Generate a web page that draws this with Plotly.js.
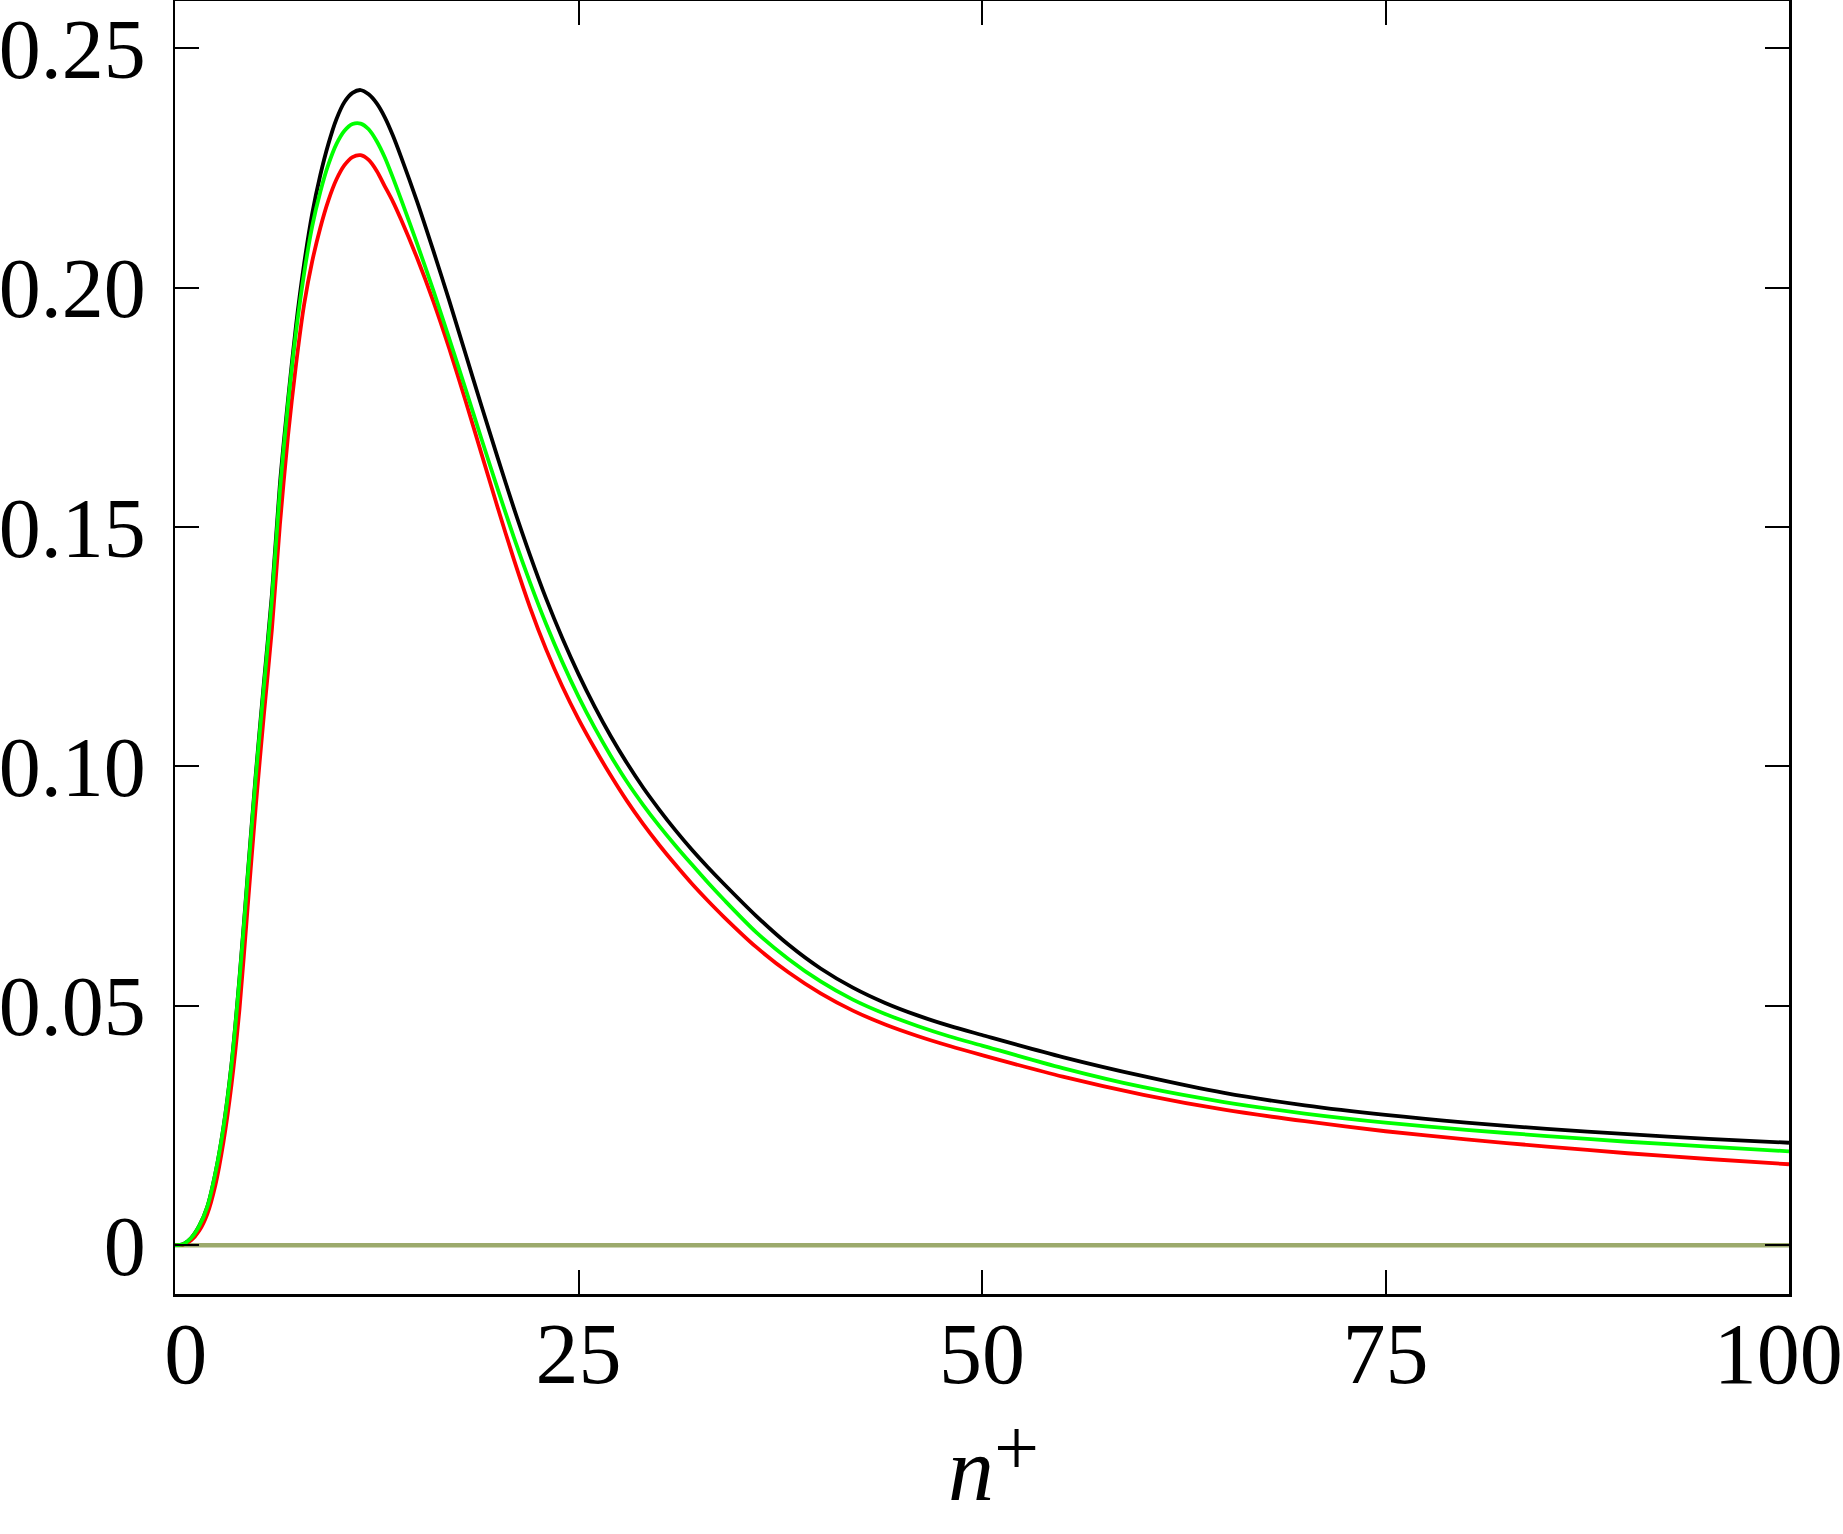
<!DOCTYPE html>
<html>
<head>
<meta charset="utf-8">
<script src="https://cdn.plot.ly/plotly-3.0.1.min.js"></script>
<style>html,body{margin:0;padding:0;background:#fff;}#chart{width:1843px;height:1534px;}</style>
</head>
<body>
<div id="chart"></div>
<script>
// n+ positions
const nPlus = [0,0.5,1,1.5,2,2.5,3,3.5,4,4.5,5,5.5,6,6.5,7,7.5,8,8.5,9,9.5,10,10.5,11,11.5,12,12.5,13,13.5,14,15,16,17,18,19,20,21,22,23,24,25,26,27,28,29,30,31,32,33,34,36,38,40,42,44,46,48,50,55,60,65,70,75,80,85,90,95,100];

const blackSeries = [0,0.0002,0.0015,0.0040,0.0080,0.0150,0.0246,0.0378,0.0560,0.0772,0.0982,0.1172,0.1358,0.1590,0.1765,0.1922,0.2050,0.2155,0.2235,0.2300,0.2352,0.2388,0.2407,0.2413,0.2404,0.2385,0.2356,0.2318,0.2274,0.2180,0.2078,0.1972,0.1862,0.1752,0.1644,0.1539,0.1441,0.1350,0.1268,0.1193,0.1125,0.1063,0.1007,0.0956,0.0910,0.0867,0.0827,0.0790,0.0755,0.0688,0.0628,0.0578,0.0538,0.0506,0.0480,0.0458,0.0439,0.0393,0.0353,0.0318,0.0292,0.0272,0.0256,0.0243,0.0232,0.0222,0.0214];

const greenSeries = [0,0.0002,0.0015,0.0040,0.0080,0.0150,0.0245,0.0376,0.0557,0.0767,0.0976,0.1164,0.1348,0.1577,0.1757,0.1908,0.2030,0.2128,0.2200,0.2257,0.2300,0.2328,0.2342,0.2343,0.2331,0.2306,0.2272,0.2230,0.2185,0.2092,0.1995,0.1893,0.1789,0.1683,0.1579,0.1478,0.1384,0.1297,0.1218,0.1146,0.1081,0.1022,0.0968,0.0920,0.0876,0.0835,0.0796,0.0758,0.0722,0.0654,0.0598,0.0551,0.0513,0.0483,0.0458,0.0436,0.0417,0.0370,0.0330,0.0299,0.0275,0.0256,0.0241,0.0228,0.0216,0.0206,0.0196];

const redSeries = [0,0.0001,0.0010,0.0030,0.0065,0.0125,0.0215,0.0335,0.0495,0.0705,0.0915,0.1105,0.1285,0.1505,0.1690,0.1840,0.1965,0.2055,0.2125,0.2182,0.2226,0.2256,0.2273,0.2277,0.2267,0.2244,0.2212,0.2180,0.2143,0.2062,0.1972,0.1872,0.1764,0.1652,0.1540,0.1432,0.1332,0.1244,0.1167,0.1099,0.1038,0.0981,0.0928,0.0880,0.0836,0.0795,0.0756,0.0720,0.0686,0.0623,0.0570,0.0526,0.0490,0.0461,0.0437,0.0416,0.0397,0.0352,0.0314,0.0283,0.0259,0.0238,0.0221,0.0206,0.0192,0.0180,0.0169];

const zeroX = [0,100];
const zeroY = [0,0];

const xTickVals = [0,25,50,75,100];
const xTickText = ['&nbsp;0','25','50','75','100&nbsp;'];
const yTickVals = [0,0.05,0.10,0.15,0.20,0.25];
const yTickText = ['0','0.05','0.10','0.15','0.20','0.25'];

const traces = [
  {x: zeroX, y: zeroY, mode:'lines', line:{color:'#9caa6c', width:4.5}, hoverinfo:'skip'},
  {x: nPlus, y: blackSeries, mode:'lines', line:{color:'#000000', width:3.8, shape:'spline', smoothing:0.8}},
  {x: nPlus, y: redSeries, mode:'lines', line:{color:'#ff0000', width:3.8, shape:'spline', smoothing:0.8}},
  {x: nPlus, y: greenSeries, mode:'lines', line:{color:'#00ff00', width:3.8, shape:'spline', smoothing:0.8}}
];

const fontFam = '"Liberation Serif", "Times New Roman", serif';

const layout = {
  width:1843, height:1534,
  margin:{l:175, r:54, t:1, b:240, pad:0},
  paper_bgcolor:'#ffffff', plot_bgcolor:'#ffffff',
  showlegend:false,
  font:{family:fontFam, color:'#000000', size:84},
  xaxis:{
    range:[0,100], tickmode:'array', tickvals:xTickVals, ticktext:xTickText,
    ticks:'inside', ticklen:24, tickwidth:2, tickcolor:'#000',
    showline:true, linecolor:'#000', linewidth:2.5, mirror:'ticks',
    showgrid:false, zeroline:false,
    tickfont:{family:fontFam, size:86, color:'#000'},
    ticklabelstandoff:-17, ticklabeloverflow:'allow',
    title:{text:'<span style="font-size:92px">&nbsp;<i>n</i></span><sup><span style="font-size:80px">+</span></sup>', font:{family:fontFam, size:60, color:'#000'}, standoff:58}
  },
  yaxis:{
    range:[-0.0102, 0.2599], tickmode:'array', tickvals:yTickVals, ticktext:yTickText,
    ticks:'inside', ticklen:24, tickwidth:2, tickcolor:'#000',
    showline:true, linecolor:'#000', linewidth:2.5, mirror:'ticks',
    showgrid:false, zeroline:false,
    tickfont:{family:fontFam, size:84, color:'#000'},
    ticklabelstandoff:10, ticklabeloverflow:'allow'
  }
};

Plotly.newPlot('chart', traces, layout, {staticPlot:true, displayModeBar:false});
</script>
</body>
</html>
